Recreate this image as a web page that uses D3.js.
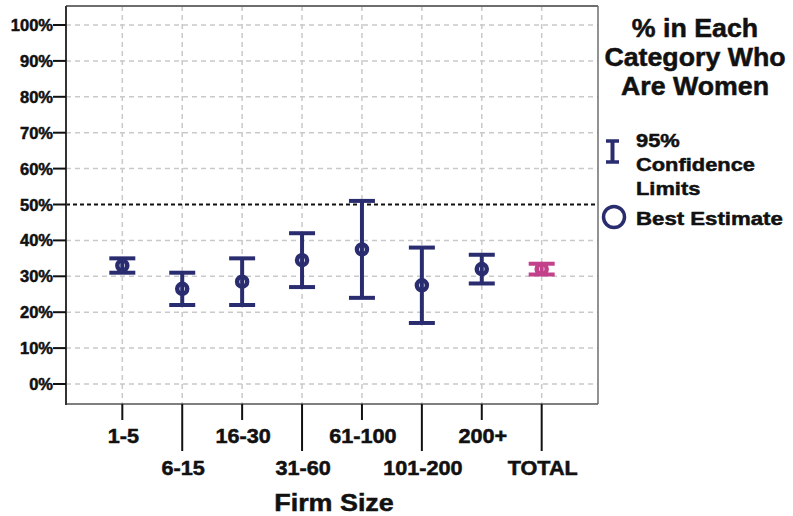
<!DOCTYPE html>
<html>
<head>
<meta charset="utf-8">
<title>Firm size - % women</title>
<script src="https://cdn.jsdelivr.net/npm/d3@7"></script>
<style>
  body { margin: 0; background: #fff; }
  text { font-family: "Liberation Sans", Arial, sans-serif; font-weight: bold; fill: #111; stroke: #111; stroke-width: 0.5px; }
</style>
</head>
<body>
<div id="chart"></div>
<script>
var W = 793, H = 516;

// data
var categories = ["1-5", "6-15", "16-30", "31-60", "61-100", "101-200", "200+", "TOTAL"];
var estimates  = [33, 26.5, 28.5, 34.5, 37.5, 27.5, 32, 32];
var lower      = [31, 22, 22, 27, 24, 17, 28, 30.5];
var upper      = [35, 31, 35, 42, 51, 38, 36, 33.5];
var yTicks     = [0, 10, 20, 30, 40, 50, 60, 70, 80, 90, 100];
var refLine    = 50;
var titleLines = ["% in Each", "Category Who", "Are Women"];

var navy = "#2a2c70", pink = "#c2418a";

var plot = {left: 66, right: 598, top: 6, bottom: 404};

var x = d3.scalePoint().domain(categories).range([plot.left, plot.right]).padding(0.94);
var y = d3.scaleLinear().domain([0, 100]).range([384, 25]);

var svg = d3.select("#chart").append("svg")
  .attr("width", W).attr("height", H);

// stretched text helper (the original font is wider than Arial)
function label(g, tx, ty, size, sx, anchor, str) {
  return g.append("text")
    .attr("transform", "translate(" + tx + "," + ty + ") scale(" + sx + ",1)")
    .attr("font-size", size + "px")
    .attr("text-anchor", anchor)
    .text(str);
}

// grid
svg.append("g").selectAll("line")
  .data(yTicks.filter(function(d) { return d !== refLine; }))
  .enter().append("line")
  .attr("x1", plot.left).attr("x2", plot.right)
  .attr("y1", function(d) { return y(d); }).attr("y2", function(d) { return y(d); })
  .attr("stroke", "#c9c9c9").attr("stroke-width", 1.5).attr("stroke-dasharray", "5,4");

svg.append("g").selectAll("line")
  .data(categories)
  .enter().append("line")
  .attr("x1", function(d) { return x(d); }).attr("x2", function(d) { return x(d); })
  .attr("y1", plot.top).attr("y2", plot.bottom)
  .attr("stroke", "#c9c9c9").attr("stroke-width", 1.5).attr("stroke-dasharray", "5,4");

// 50% reference line
svg.append("line")
  .attr("x1", plot.left).attr("x2", plot.right)
  .attr("y1", y(refLine)).attr("y2", y(refLine))
  .attr("stroke", "#111").attr("stroke-width", 1.8).attr("stroke-dasharray", "4,3");

// frame
svg.append("line").attr("x1", plot.left).attr("x2", plot.right).attr("y1", plot.top).attr("y2", plot.top)
  .attr("stroke", "#6e6e6e").attr("stroke-width", 2);
svg.append("line").attr("x1", plot.right).attr("x2", plot.right).attr("y1", plot.top).attr("y2", plot.bottom)
  .attr("stroke", "#6e6e6e").attr("stroke-width", 1.5);
svg.append("line").attr("x1", plot.left).attr("x2", plot.right).attr("y1", plot.bottom).attr("y2", plot.bottom)
  .attr("stroke", "#555").attr("stroke-width", 1.5);
svg.append("line").attr("x1", plot.left).attr("x2", plot.left).attr("y1", plot.top).attr("y2", plot.bottom + 1)
  .attr("stroke", "#333").attr("stroke-width", 2);

// y axis ticks + labels
var yAx = svg.append("g");
yAx.selectAll("line").data(yTicks).enter().append("line")
  .attr("x1", 53).attr("x2", plot.left)
  .attr("y1", function(d) { return y(d); }).attr("y2", function(d) { return y(d); })
  .attr("stroke", "#111").attr("stroke-width", 2);
yAx.selectAll("text").data(yTicks).enter().append("text")
  .attr("x", 53).attr("y", function(d) { return y(d) + 6; })
  .attr("text-anchor", "end").attr("font-size", "16.5px")
  .text(function(d) { return d + "%"; });

// x axis ticks (staggered) + labels
var xAx = svg.append("g");
categories.forEach(function(c, i) {
  var odd = i % 2 === 1;
  xAx.append("line")
    .attr("x1", x(c)).attr("x2", x(c))
    .attr("y1", plot.bottom).attr("y2", odd ? 451 : 420)
    .attr("stroke", "#111").attr("stroke-width", 2);
  label(xAx, x(c) + 1, odd ? 475 : 443, 19.5, 1.11, "middle", c);
});

label(svg, 334, 511, 24, 1.12, "middle", "Firm Size");

// error bars
var bars = svg.append("g").selectAll("g")
  .data(categories).enter().append("g")
  .attr("stroke", function(d, i) { return d === "TOTAL" ? pink : navy; })
  .attr("fill", "none");

bars.append("line")
  .attr("x1", function(d) { return x(d); }).attr("x2", function(d) { return x(d); })
  .attr("y1", function(d, i) { return y(upper[i]); })
  .attr("y2", function(d, i) { return y(lower[i]); })
  .attr("stroke-width", 4);
bars.append("line")
  .attr("x1", function(d) { return x(d) - 13; }).attr("x2", function(d) { return x(d) + 13; })
  .attr("y1", function(d, i) { return y(upper[i]); }).attr("y2", function(d, i) { return y(upper[i]); })
  .attr("stroke-width", 4);
bars.append("line")
  .attr("x1", function(d) { return x(d) - 13; }).attr("x2", function(d) { return x(d) + 13; })
  .attr("y1", function(d, i) { return y(lower[i]); }).attr("y2", function(d, i) { return y(lower[i]); })
  .attr("stroke-width", 4);
bars.append("circle")
  .attr("cx", function(d) { return x(d); })
  .attr("cy", function(d, i) { return y(estimates[i]); })
  .attr("r", 5).attr("stroke-width", 4.5);

// legend
var leg = svg.append("g");
titleLines.forEach(function(t, i) {
  label(leg, 695, 37 + i * 29, 25, 1.07, "middle", t);
});

leg.append("line").attr("x1", 612.5).attr("x2", 612.5).attr("y1", 141).attr("y2", 162)
  .attr("stroke", navy).attr("stroke-width", 4);
leg.append("line").attr("x1", 606).attr("x2", 619).attr("y1", 141).attr("y2", 141)
  .attr("stroke", navy).attr("stroke-width", 3.5);
leg.append("line").attr("x1", 606).attr("x2", 619).attr("y1", 162).attr("y2", 162)
  .attr("stroke", navy).attr("stroke-width", 3.5);
label(leg, 636, 147, 19, 1.15, "start", "95%");
label(leg, 636, 171, 19, 1.15, "start", "Confidence");
label(leg, 636, 195, 19, 1.15, "start", "Limits");

leg.append("circle").attr("cx", 614).attr("cy", 217).attr("r", 10.5)
  .attr("fill", "none").attr("stroke", navy).attr("stroke-width", 3.5);
label(leg, 636, 224.5, 19, 1.17, "start", "Best Estimate");
</script>
</body>
</html>
